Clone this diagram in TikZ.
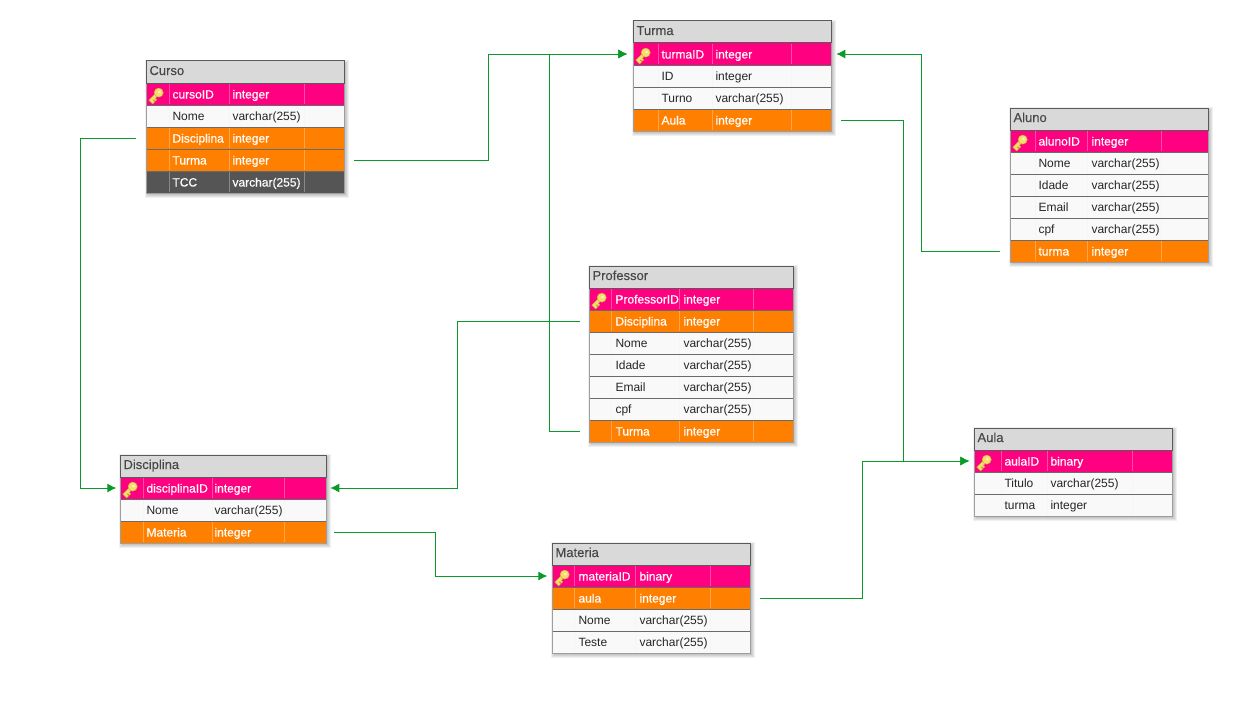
\documentclass[tikz,border=0pt]{standalone}
\usepackage{fontspec}
\setmainfont{Liberation Sans}
\newfontface\heavyface[FakeBold=0.35]{Liberation Sans}
\newfontface\midface[FakeBold=0.12]{Liberation Sans}
\usetikzlibrary{arrows.meta}
\definecolor{pinkrow}{HTML}{FF0080}
\definecolor{orangerow}{HTML}{FF8000}
\definecolor{darkrow}{HTML}{555555}
\definecolor{plainrow}{HTML}{F9F9F9}
\definecolor{headrow}{HTML}{D9D9D9}
\definecolor{edgegray}{HTML}{6A6A6A}
\definecolor{conngreen}{HTML}{0A9A2A}
\definecolor{keygold}{HTML}{F6DC6A}
\definecolor{keyedge}{HTML}{C9A23A}
\tikzset{
  rowbase/.style={anchor=north west,inner sep=0pt,outer sep=0pt,minimum height=22pt,draw=none},
  pk/.style={rowbase,fill=pinkrow},
  fk/.style={rowbase,fill=orangerow},
  pl/.style={rowbase,fill=plainrow},
  dk/.style={rowbase,fill=darkrow},
  head/.style={rowbase,fill=headrow,draw=edgegray!85!black,line width=1pt},
  title/.style={anchor=base west,inner sep=0pt,font=\midface\fontsize{13}{14}\selectfont,text=black!72},
  cell/.style={anchor=base west,inner sep=0pt},
  softshadow/.style={black,opacity=.06},
  sep/.style={edgegray,line width=.8pt},
  frame/.style={draw=black!38,line width=.8pt},
  conn/.style={draw=conngreen,line width=.9pt},
  arrowed/.style={conn,-{Latex[length=9pt,width=9pt]}},
}
% \erbox{id}{x}{y}{w}{col1}{col2}{col3}{textx1}{textx2}{title}{rows}{count}
\newcommand{\erbox}[9]{%
  \def\bid{#1}\def\bx{#2}\def\by{#3}\def\bw{#4}\def\ca{#5}\def\cb{#6}\def\cc{#7}\def\ta{#8}\def\tb{#9}\erboxrest}
\newcommand{\erboxrest}[3]{%
  \pgfmathsetmacro\bh{22+22*#3}
  \foreach \s in {3,2,1,0}{
    \fill[softshadow] (\bx+2-\s,\by+2-\s) rectangle (\bx+\bw+2+\s,\by+\bh+2+\s);
  }
  \foreach \kind/\lab/\typ/\rid [count=\n from 0] in {#2} {
    \pgfmathsetmacro\ry{\by+22+22*\n}
    \node[\kind,minimum width=\bw pt] (\bid-\rid) at (\bx,\ry) {};
    \ifx\kind\plainkind
      \def\tc{black!85}\def\lc{white!96!black}\def\ff{\rmfamily}
    \else
      \def\tc{white}\def\lc{white!30!\kind col}\def\ff{\heavyface}
    \fi
    \draw[\lc,line width=.6pt] (\ca,\ry+1) -- (\ca,\ry+21) (\cb,\ry+1) -- (\cb,\ry+21) (\cc,\ry+1) -- (\cc,\ry+21);
    \node[cell,text=\tc,font=\ff\fontsize{12}{14}\selectfont] (\bid-\rid-n) at (\ta,\ry+15.5) {\lab};
    \node[cell,text=\tc,font=\ff\fontsize{12}{14}\selectfont] (\bid-\rid-t) at (\tb,\ry+15.5) {\typ};
  }
  \foreach \k in {1,...,#3}{
    \draw[sep] (\bx,\by+22+22*\k) -- (\bx+\bw,\by+22+22*\k);
  }
  \draw[frame] (\bx,\by+22) -- (\bx,\by+\bh) -- (\bx+\bw,\by+\bh) -- (\bx+\bw,\by+22);
  \node[head,minimum width=\bw pt] (\bid-title) at (\bx,\by) {};
  \node[title] (\bid-name) at (\bx+3,\by+14) {#1};
  \begin{scope}[shift={(\bx+10,\by+34)},rotate=45]
    \fill[keygold,draw=keyedge,line width=.4pt] (-9,-1.7) -- (1,-1.7) -- (1,1.7) -- (-3,1.7) -- (-3,3.8) -- (-5,3.8) -- (-5,1.7) -- (-6,1.7) -- (-6,3.8) -- (-9,3.8) -- cycle;
    \fill[keygold,draw=keyedge,line width=.4pt] (3.4,0) circle (4.6);
    \fill[white!60!keygold] (4.4,0) circle (1.6);
  \end{scope}
}
\colorlet{pkcol}{pinkrow}
\colorlet{fkcol}{orangerow}
\colorlet{dkcol}{darkrow}
\def\plainkind{pl}
\begin{document}
\begin{tikzpicture}[x=1pt,y=-1pt]
\useasboundingbox (0,0) rectangle (1249,725);
\fill[white] (0,0) rectangle (1249,725);
\begin{scope}[xshift=.3pt]
\erbox{curso}{146}{61}{198}{169}{229}{304}{172}{232}{Curso}{pk/cursoID/integer/id,pl/Nome/varchar(255)/nome,fk/Disciplina/integer/disc,fk/Turma/integer/turma,dk/TCC/varchar(255)/tcc}{5}
\erbox{turma}{633}{21}{198}{658}{712}{791}{661}{715}{Turma}{pk/turmaID/integer/id,pl/ID/integer/idd,pl/Turno/varchar(255)/turno,fk/Aula/integer/aula}{4}
\erbox{aluno}{1010}{108}{198}{1035}{1087}{1161}{1038}{1091}{Aluno}{pk/alunoID/integer/id,pl/Nome/varchar(255)/nome,pl/Idade/varchar(255)/idade,pl/Email/varchar(255)/email,pl/cpf/varchar(255)/cpf,fk/turma/integer/turma}{6}
\erbox{prof}{589}{266}{204}{611}{679}{753}{615}{683}{Professor}{pk/ProfessorID/integer/id,fk/Disciplina/integer/disc,pl/Nome/varchar(255)/nome,pl/Idade/varchar(255)/idade,pl/Email/varchar(255)/email,pl/cpf/varchar(255)/cpf,fk/Turma/integer/turma}{7}
\erbox{disc}{120}{455}{206}{143}{212}{284}{146}{214}{Disciplina}{pk/disciplinaID/integer/id,pl/Nome/varchar(255)/nome,fk/Materia/integer/mat}{3}
\erbox{mat}{552}{543}{198}{574}{635}{710}{578}{639}{Materia}{pk/materiaID/binary/id,fk/aula/integer/aula,pl/Nome/varchar(255)/nome,pl/Teste/varchar(255)/teste}{4}
\erbox{aula}{974}{428}{198}{1001}{1047}{1132}{1004}{1050}{Aula}{pk/aulaID/binary/id,pl/Titulo/varchar(255)/titulo,pl/turma/integer/turma}{3}

\coordinate (e1) at (488,0);
\coordinate (e2) at (80,0);
\coordinate (e3) at (457,0);
\coordinate (e4) at (549,0);
\coordinate (e5) at (921,0);
\coordinate (e6) at (903,0);
\coordinate (e7) at (435,0);
\coordinate (e8) at (862,0);

\draw[arrowed] ([xshift=10pt]curso-turma.east) -- (e1 |- curso-turma.east) -- (e1 |- turma-id.west) -- ([xshift=-6pt]turma-id.west);
\draw[arrowed] ([xshift=-10pt]curso-disc.west) -- (e2 |- curso-disc.west) -- (e2 |- disc-id.west) -- ([xshift=-4pt]disc-id.west);
\draw[arrowed] ([xshift=-9pt]prof-disc.west) -- (e3 |- prof-disc.west) -- (e3 |- disc-id.east) -- ([xshift=4pt]disc-id.east);
\draw[arrowed] ([xshift=-9pt]prof-turma.west) -- (e4 |- prof-turma.west) -- (e4 |- turma-id.west) -- ([xshift=-6pt]turma-id.west);
\draw[arrowed] ([xshift=-10pt]aluno-turma.west) -- (e5 |- aluno-turma.west) -- (e5 |- turma-id.east) -- ([xshift=5pt]turma-id.east);
\draw[arrowed] ([xshift=10pt]turma-aula.east) -- (e6 |- turma-aula.east) -- (e6 |- aula-id.west) -- ([xshift=-5pt]aula-id.west);
\draw[arrowed] ([xshift=8pt]disc-mat.east) -- (e7 |- disc-mat.east) -- (e7 |- mat-id.west) -- ([xshift=-5pt]mat-id.west);
\draw[arrowed] ([xshift=10pt]mat-aula.east) -- (e8 |- mat-aula.east) -- (e8 |- aula-id.west) -- ([xshift=-5pt]aula-id.west);
\end{scope}
\end{tikzpicture}
\end{document}
